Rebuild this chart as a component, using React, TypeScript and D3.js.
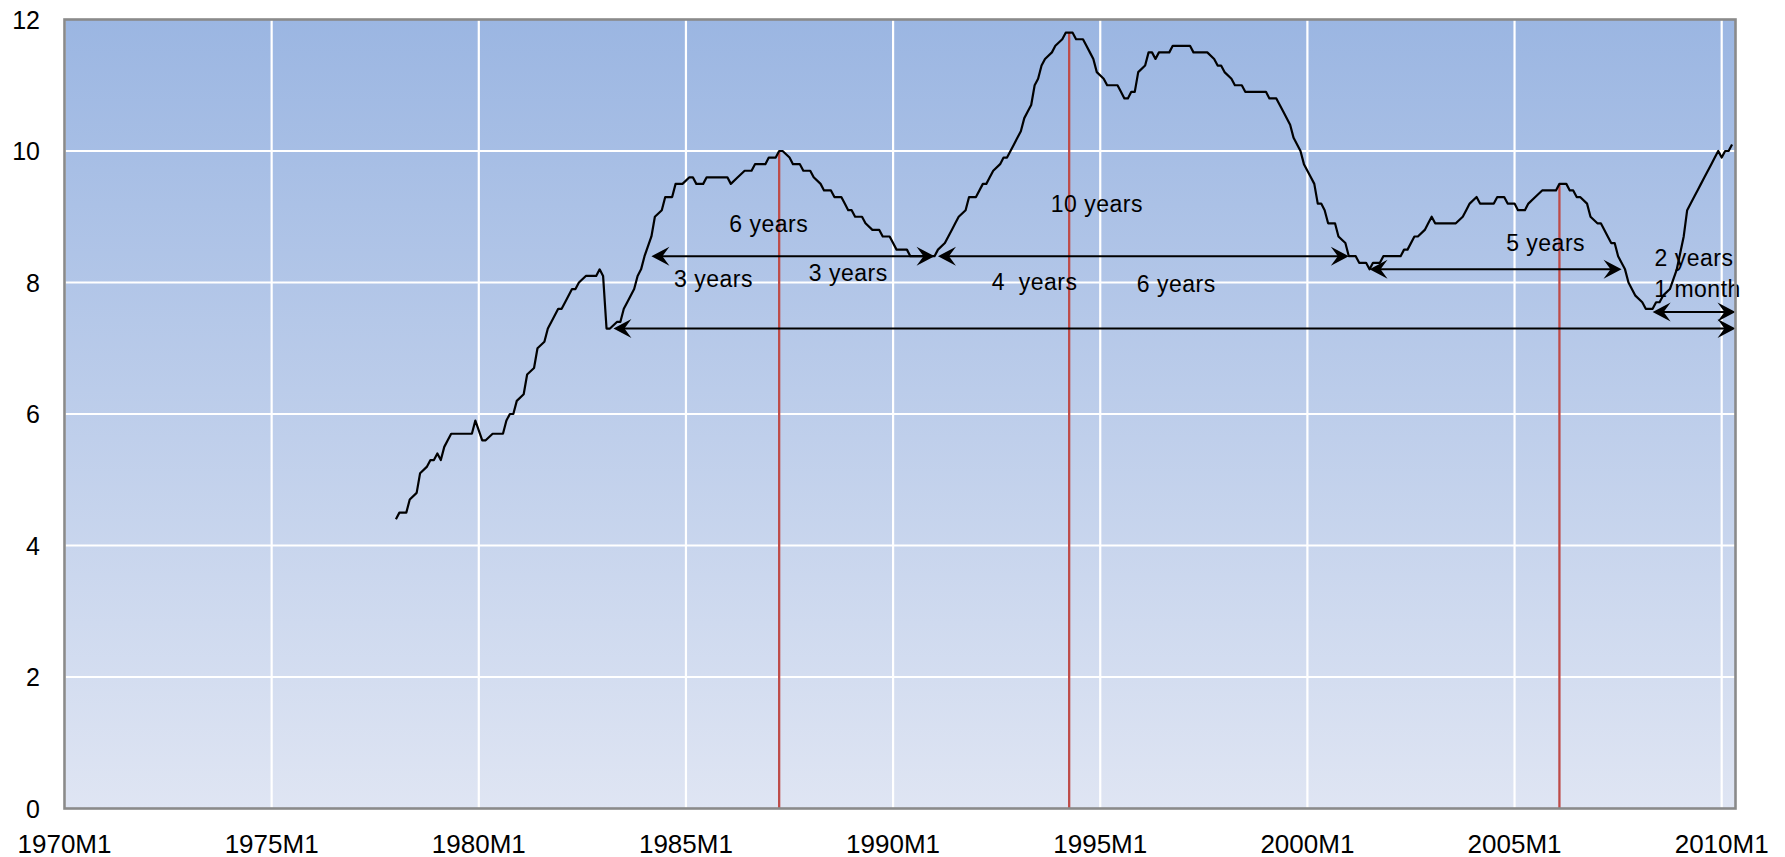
import React from 'react';
import * as d3 from 'd3';

// canvas
const W = 1785;
const H = 857;

// axis ticks
const yTicks = [0, 2, 4, 6, 8, 10, 12];
const xTickLabels = ['1970M1', '1975M1', '1980M1', '1985M1', '1990M1', '1995M1', '2000M1', '2005M1', '2010M1'];
const axisStart = '1970M1';
const axisEnd = '2010M5';

// series readings (turning points of the monthly line)
const periods = [
  '1978M1', '1978M2', '1978M4', '1978M5', '1978M7', '1978M8', '1978M10', '1978M11', '1978M12',
  '1979M1', '1979M2', '1979M3', '1979M4', '1979M5', '1979M11', '1979M12',
  '1980M2', '1980M3', '1980M5', '1980M8', '1980M9', '1980M10', '1980M11', '1980M12',
  '1981M2', '1981M3', '1981M5', '1981M6', '1981M8', '1981M9', '1981M10', '1981M12',
  '1982M1', '1982M2', '1982M4', '1982M5', '1982M6', '1982M8', '1982M11', '1982M12',
  '1983M1', '1983M2', '1983M3', '1983M5', '1983M6', '1983M7', '1983M8', '1983M10', '1983M11', '1983M12',
  '1984M1', '1984M3', '1984M4', '1984M6', '1984M7', '1984M9', '1984M10', '1984M12',
  '1985M2', '1985M3', '1985M4', '1985M6', '1985M7',
  '1986M1', '1986M2', '1986M4', '1986M6', '1986M8', '1986M9', '1986M12',
  '1987M1', '1987M3', '1987M4', '1987M5', '1987M7', '1987M8', '1987M10', '1987M11',
  '1988M1', '1988M2', '1988M4', '1988M5', '1988M7', '1988M8', '1988M10', '1988M11', '1988M12',
  '1989M1', '1989M2', '1989M4', '1989M5', '1989M7', '1989M9', '1989M10', '1989M12',
  '1990M1', '1990M2', '1990M5', '1990M6',
  '1991M1', '1991M2', '1991M4', '1991M5', '1991M6', '1991M7', '1991M8', '1991M10', '1991M11',
  '1992M1', '1992M3', '1992M4', '1992M5', '1992M6', '1992M8', '1992M9', '1992M10', '1992M12',
  '1993M1', '1993M2', '1993M3', '1993M4', '1993M5', '1993M6', '1993M7', '1993M8', '1993M9', '1993M11', '1993M12',
  '1994M2', '1994M3', '1994M5', '1994M6', '1994M8', '1994M9', '1994M10', '1994M11', '1994M12',
  '1995M2', '1995M3', '1995M6', '1995M7', '1995M8', '1995M9', '1995M10', '1995M11', '1995M12',
  '1996M2', '1996M3', '1996M4', '1996M5', '1996M6', '1996M9', '1996M10',
  '1997M3', '1997M4', '1997M8', '1997M10', '1997M11', '1997M12',
  '1998M1', '1998M3', '1998M4', '1998M6', '1998M7',
  '1999M1', '1999M2', '1999M4', '1999M5', '1999M6', '1999M8', '1999M9', '1999M11', '1999M12',
  '2000M2', '2000M3', '2000M4', '2000M5', '2000M6', '2000M7', '2000M9', '2000M10', '2000M12',
  '2001M1', '2001M3', '2001M4', '2001M6', '2001M7', '2001M8', '2001M10', '2001M11',
  '2002M4', '2002M5', '2002M6', '2002M8', '2002M9', '2002M11', '2002M12',
  '2003M1', '2003M2', '2003M8', '2003M10', '2003M11', '2003M12',
  '2004M2', '2004M3', '2004M7', '2004M8', '2004M10', '2004M11',
  '2005M1', '2005M2', '2005M4', '2005M5', '2005M7', '2005M9',
  '2006M1', '2006M2', '2006M4', '2006M5', '2006M6', '2006M7', '2006M8', '2006M10', '2006M11',
  '2007M1', '2007M2', '2007M4', '2007M5', '2007M6', '2007M7', '2007M9', '2007M10', '2007M12',
  '2008M2', '2008M3', '2008M5', '2008M6', '2008M7', '2008M8', '2008M10', '2008M12',
  '2009M2', '2009M3', '2009M5', '2009M6', '2009M7', '2009M8', '2009M9', '2009M10', '2009M11', '2009M12',
  '2010M1', '2010M2', '2010M3', '2010M4',
];
const rates = [
  4.4, 4.5, 4.5, 4.7, 4.8, 5.1, 5.2, 5.3, 5.3,
  5.4, 5.3, 5.5, 5.6, 5.7, 5.7, 5.9,
  5.6, 5.6, 5.7, 5.7, 5.9, 6.0, 6.0, 6.2,
  6.3, 6.6, 6.7, 7.0, 7.1, 7.3, 7.4, 7.6,
  7.6, 7.7, 7.9, 7.9, 8.0, 8.1, 8.1, 8.2,
  8.1, 7.3, 7.3, 7.4, 7.4, 7.6, 7.7, 7.9, 8.1, 8.2,
  8.4, 8.7, 9.0, 9.1, 9.3, 9.3, 9.5, 9.5,
  9.6, 9.6, 9.5, 9.5, 9.6,
  9.6, 9.5, 9.6, 9.7, 9.7, 9.8, 9.8,
  9.9, 9.9, 10.0, 10.0, 9.9, 9.8, 9.8, 9.7,
  9.7, 9.6, 9.5, 9.4, 9.4, 9.3, 9.3, 9.2, 9.1,
  9.1, 9.0, 9.0, 8.9, 8.8, 8.8, 8.7, 8.7,
  8.6, 8.5, 8.5, 8.4,
  8.4, 8.5, 8.6, 8.7, 8.8, 8.9, 9.0, 9.1, 9.3,
  9.3, 9.5, 9.5, 9.6, 9.7, 9.8, 9.9, 9.9, 10.1,
  10.2, 10.3, 10.5, 10.6, 10.7, 11.0, 11.1, 11.3, 11.4, 11.5, 11.6,
  11.7, 11.8, 11.8, 11.7, 11.7, 11.6, 11.5, 11.4, 11.2,
  11.1, 11.0, 11.0, 10.9, 10.8, 10.8, 10.9, 10.9, 11.2,
  11.3, 11.5, 11.5, 11.4, 11.5, 11.5, 11.6,
  11.6, 11.5, 11.5, 11.4, 11.3, 11.3,
  11.2, 11.1, 11.0, 11.0, 10.9,
  10.9, 10.8, 10.8, 10.7, 10.6, 10.4, 10.2, 10.0, 9.8,
  9.6, 9.5, 9.2, 9.2, 9.1, 8.9, 8.9, 8.7, 8.6,
  8.4, 8.4, 8.3, 8.3, 8.2, 8.3, 8.3, 8.4,
  8.4, 8.5, 8.5, 8.7, 8.7, 8.8, 8.9,
  9.0, 8.9, 8.9, 9.0, 9.1, 9.2,
  9.3, 9.2, 9.2, 9.3, 9.3, 9.2,
  9.2, 9.1, 9.1, 9.2, 9.3, 9.4,
  9.4, 9.5, 9.5, 9.4, 9.4, 9.3, 9.3, 9.2, 9.0,
  8.9, 8.9, 8.7, 8.6, 8.6, 8.4, 8.2, 8.0, 7.8,
  7.7, 7.6, 7.6, 7.7, 7.7, 7.8, 7.9, 8.2,
  8.7, 9.1, 9.3, 9.4, 9.5, 9.6, 9.7, 9.8, 9.9, 10.0,
  9.9, 10.0, 10.0, 10.1,
];

// red drop lines at the cycle peaks
const peakPeriods = ['1987M4', '1994M4', '2006M2'];

// double-headed span arrows
const spanStarts = ['1984M3', '1991M2', '2001M7', '2008M5', '1983M4'];
const spanEnds = ['1991M1', '2001M1', '2007M8', '2010M5', '2010M5'];
const spanLevels = [8.4, 8.4, 8.2, 7.55, 7.3];

// annotations
const noteTexts = ['6 years', '3 years', '3 years', '10 years', '4  years', '6 years', '5 years', '2 years', '1 month'];
const notePeriods = ['1987M1', '1985M9', '1988M12', '1994M12', '1993M6', '1996M11', '2005M10', '2009M5', '2009M6'];
const noteLevels = [8.89, 8.06, 8.14, 9.2, 8.01, 7.98, 8.6, 8.38, 7.9];

const FONT = '"Liberation Sans", Arial, sans-serif';

const toIndex = (p: string) => {
  const [yr, mo] = p.split('M').map(Number);
  return (yr - 1970) * 12 + mo - 1;
};

export default function App() {
  const plot = { left: 64.5, right: 1735.5, top: 19.5, bottom: 808.5 };

  const x = d3.scaleLinear().domain([toIndex(axisStart), toIndex(axisEnd)]).range([plot.left, plot.right]);
  const y = d3.scaleLinear().domain([0, 12]).range([plot.bottom, plot.top]);

  const points: [number, number][] = periods.map((p, i) => [toIndex(p), rates[i]]);
  const linePath = d3.line<[number, number]>()
    .x((d) => x(d[0]))
    .y((d) => y(d[1]))(points) || '';

  // value of the series at a period (for peak drop lines)
  const valueAt = (p: string) => {
    const m = toIndex(p);
    const i = d3.bisector((d: [number, number]) => d[0]).left(points, m);
    if (points[i] && points[i][0] === m) return points[i][1];
    const a = points[i - 1];
    const b = points[i];
    return a[1] + ((b[1] - a[1]) * (m - a[0])) / (b[0] - a[0]);
  };

  const head = (tx: number, ty: number, dir: number) => {
    const L = 18;
    const N = 11;
    const Wd = 9.5;
    return `M${tx},${ty} L${tx - dir * L},${ty - Wd} L${tx - dir * N},${ty} L${tx - dir * L},${ty + Wd} Z`;
  };

  return (
    <svg
      width={W}
      height={H}
      style={{ position: 'absolute', left: 0, top: 0, background: '#fff' }}
    >
      <defs>
        <linearGradient id="bg" x1="0" y1="0" x2="0" y2="1">
          <stop offset="0%" stopColor="#9BB6E2" />
          <stop offset="100%" stopColor="#DFE5F3" />
        </linearGradient>
      </defs>

      <rect
        x={plot.left}
        y={plot.top}
        width={plot.right - plot.left}
        height={plot.bottom - plot.top}
        fill="url(#bg)"
      />

      {/* grid */}
      {yTicks.filter((t) => t > 0 && t < 12).map((t) => (
        <line key={'gy' + t} x1={plot.left} x2={plot.right} y1={y(t)} y2={y(t)} stroke="#fff" strokeWidth={2.2} />
      ))}
      {xTickLabels.map((lab) => (
        <line key={'gx' + lab} x1={x(toIndex(lab))} x2={x(toIndex(lab))} y1={plot.top} y2={plot.bottom} stroke="#fff" strokeWidth={2.2} />
      ))}

      {/* peak markers */}
      {peakPeriods.map((p) => (
        <line
          key={'pk' + p}
          x1={x(toIndex(p))}
          x2={x(toIndex(p))}
          y1={y(valueAt(p))}
          y2={plot.bottom}
          stroke="#BE4B48"
          strokeWidth={2.3}
        />
      ))}

      <path d={linePath} fill="none" stroke="#000" strokeWidth={2.2} strokeLinejoin="round" />

      {/* spans */}
      {spanStarts.map((s, i) => {
        const x0 = x(toIndex(s));
        const x1 = x(toIndex(spanEnds[i]));
        const yy = y(spanLevels[i]);
        return (
          <g key={'sp' + i}>
            <line x1={x0 + 4} x2={x1 - 4} y1={yy} y2={yy} stroke="#000" strokeWidth={2} />
            <path d={head(x0, yy, -1)} fill="#000" />
            <path d={head(x1, yy, 1)} fill="#000" />
          </g>
        );
      })}

      {noteTexts.map((t, i) => (
        <text
          key={'nt' + i}
          x={x(toIndex(notePeriods[i]))}
          y={y(noteLevels[i])}
          textAnchor="middle"
          dominantBaseline="central"
          fontFamily={FONT}
          fontSize={23}
          letterSpacing={0.5}
          fill="#000"
          style={{ whiteSpace: 'pre' }}
        >
          {t}
        </text>
      ))}

      {/* plot border */}
      <rect
        x={plot.left}
        y={plot.top}
        width={plot.right - plot.left}
        height={plot.bottom - plot.top}
        fill="none"
        stroke="#8A8A8A"
        strokeWidth={2.6}
      />

      {/* y axis labels */}
      {yTicks.map((t) => (
        <text
          key={'yl' + t}
          x={40}
          y={y(t)}
          textAnchor="end"
          dominantBaseline="central"
          fontFamily={FONT}
          fontSize={25}
          fill="#000"
        >
          {t}
        </text>
      ))}

      {/* x axis labels */}
      {xTickLabels.map((lab) => (
        <text
          key={'xl' + lab}
          x={x(toIndex(lab))}
          y={853}
          textAnchor="middle"
          fontFamily={FONT}
          fontSize={26}
          fill="#000"
        >
          {lab}
        </text>
      ))}
    </svg>
  );
}
